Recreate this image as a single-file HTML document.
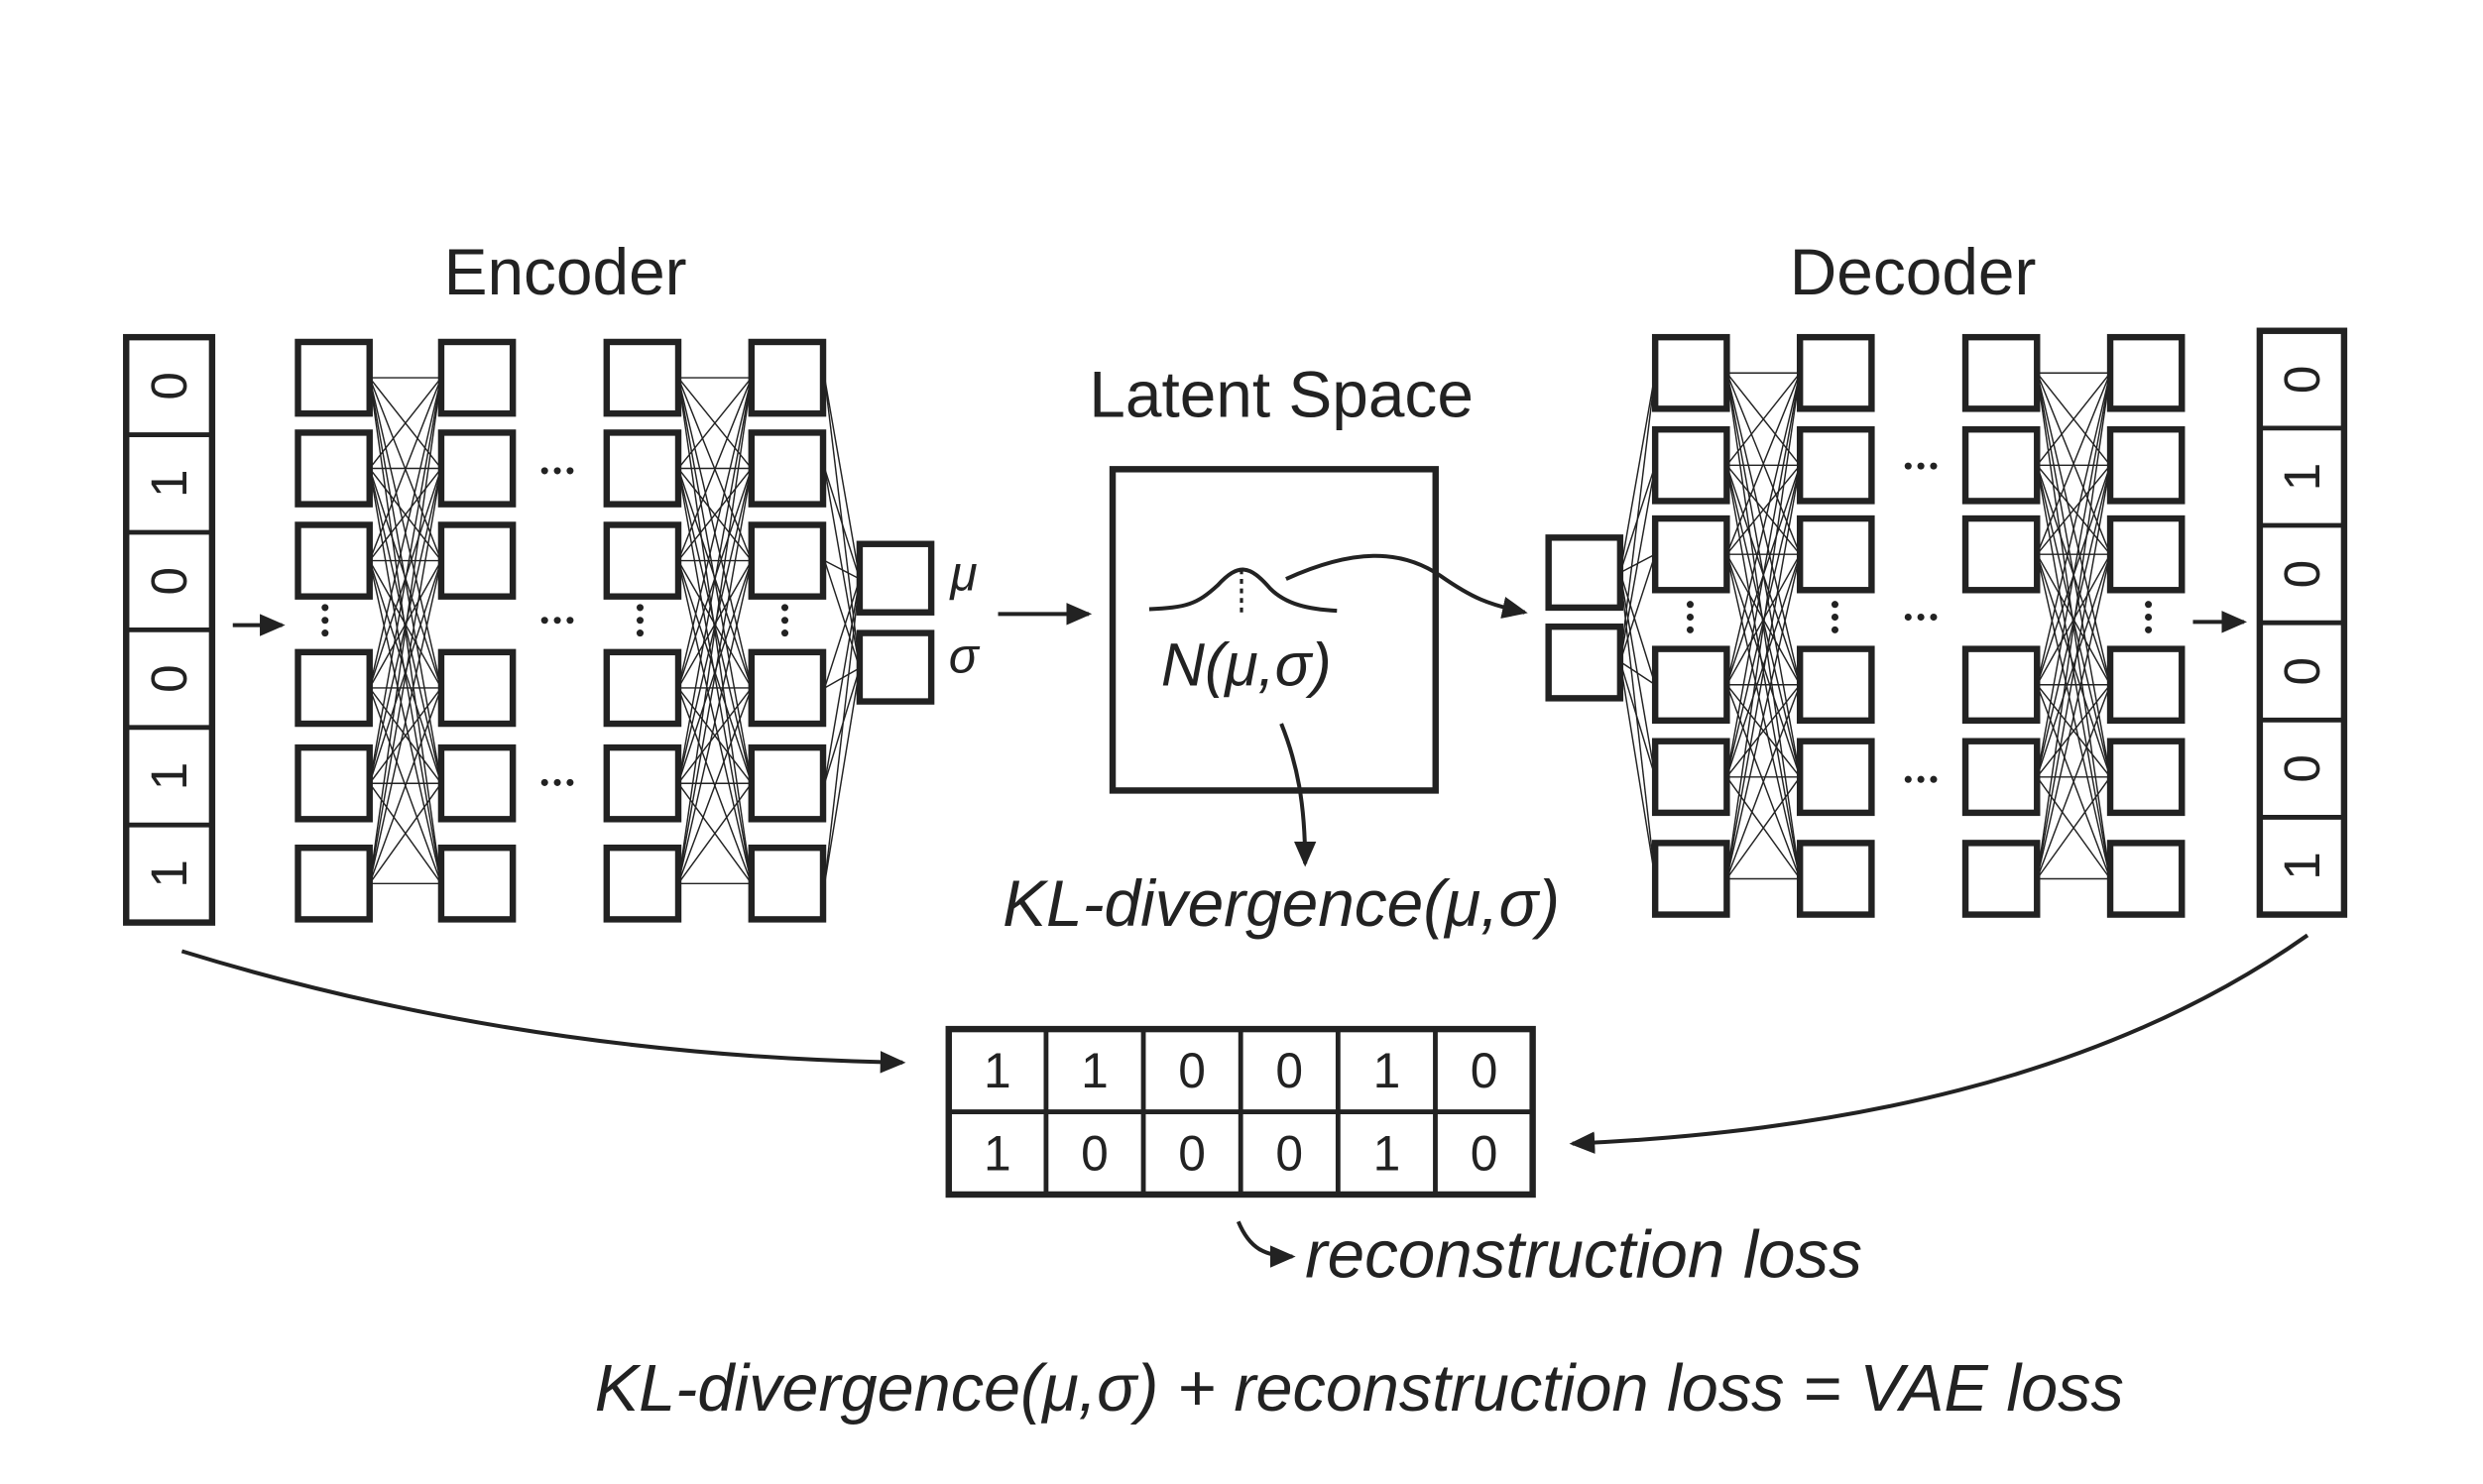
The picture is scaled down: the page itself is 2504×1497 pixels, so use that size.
<!DOCTYPE html>
<html><head><meta charset="utf-8"><style>
html,body{margin:0;padding:0;background:#fff;}
svg{display:block;}
text{font-family:"Liberation Sans",sans-serif;fill:#222;}
</style></head><body>
<svg id="s" width="2504" height="1497" viewBox="0 0 1560 933" xmlns="http://www.w3.org/2000/svg">
<defs><marker id="ah" markerWidth="16" markerHeight="14" refX="14" refY="7" orient="auto" markerUnits="userSpaceOnUse"><path d="M0,0 L16,7 L0,14 z" fill="#222"/></marker></defs>
<g id="g" stroke="#222" fill="none"></g>
<text x="355" y="185" font-size="41" text-anchor="middle">Encoder</text>
<text x="1202" y="185" font-size="41" text-anchor="middle">Decoder</text>
<text x="805" y="262" font-size="41" text-anchor="middle">Latent Space</text>
<text x="597" y="371" font-size="31" font-style="italic">μ</text>
<text x="596" y="423" font-size="31" font-style="italic">σ</text>
<rect x="699" y="295" width="203" height="202" stroke="#222" stroke-width="4" fill="none"/>
<path d="M722,383 C745,382 752,380 765,368 C778,354 785,355 798,370 C808,380 822,383 840,384" stroke="#222" stroke-width="2.5" fill="none"/>
<line x1="780" y1="358" x2="780" y2="386" stroke="#222" stroke-width="2" stroke-dasharray="3,3"/>
<text x="783" y="431" font-size="38" font-style="italic" text-anchor="middle">N(μ,σ)</text>
<path d="M808,364 C850,345 880,345 905,362 C925,376 935,380 958,385" stroke="#222" stroke-width="2.5" fill="none" marker-end="url(#ah)"/>
<path d="M805,455 C815,480 820,505 820,543" stroke="#222" stroke-width="2.5" fill="none" marker-end="url(#ah)"/>
<text x="805" y="582" font-size="41" font-style="italic" text-anchor="middle">KL-divergence(μ,σ)</text>
<path d="M146,393 L177,393" stroke="#222" stroke-width="2.5" marker-end="url(#ah)"/>
<path d="M627,386 L684,386" stroke="#222" stroke-width="2.5" marker-end="url(#ah)"/>
<path d="M1378,391 L1410,391" stroke="#222" stroke-width="2.5" marker-end="url(#ah)"/>
<path d="M114,598 C250,640 400,665 567,668" stroke="#222" stroke-width="2.5" fill="none" marker-end="url(#ah)"/>
<path d="M1450,588 C1320,680 1150,712 988,719" stroke="#222" stroke-width="2.5" fill="none" marker-end="url(#ah)"/>
<path d="M778,768 C785,785 795,790 812,790" stroke="#222" stroke-width="2.5" fill="none" marker-end="url(#ah)"/>
<text x="820" y="803" font-size="42" font-style="italic">reconstruction loss</text>
<text x="854" y="887" font-size="41.5" font-style="italic" text-anchor="middle">KL-divergence(μ,σ) + reconstruction loss = VAE loss</text>
<g id="t"></g>
</svg>
<script>
var NS="http://www.w3.org/2000/svg",g=document.getElementById('g'),t=document.getElementById('t');
function el(p,n,a){var e=document.createElementNS(NS,n);for(var k in a)e.setAttribute(k,a[k]);p.appendChild(e);return e;}
function txt(p,x,y,s,sz,rot){var e=el(p,'text',{x:x,y:y,'font-size':sz,'text-anchor':'middle','dominant-baseline':'central'});if(rot)e.setAttribute('transform','rotate(-90 '+x+' '+y+')');e.textContent=s;}
function box(x,y,w,h){el(g,'rect',{x:x,y:y,width:w,height:h,'stroke-width':4,fill:'#fff'});}
function net(cols,rows,sz){
  var ys=rows.map(r=>r+sz/2);
  for(var c=0;c<cols.length;c+=2){var x1=cols[c]+sz,x2=cols[c+1];
    ys.forEach(a=>ys.forEach(b=>el(g,'line',{x1:x1,y1:a,x2:x2,y2:b,'stroke-width':0.9})));}
  return ys;
}
var ec=[187,277,381,472],er=[215,272,330,410,470,533];
var eys=net(ec,er,45);
[342,398].forEach(function(b){eys.forEach(a=>el(g,'line',{x1:518,y1:a,x2:540,y2:b+22,'stroke-width':0.9}));});
ec.forEach(x=>er.forEach(y=>box(x,y,45,45)));
box(540,342,45,43);box(540,398,45,43);
var dc=[1040,1131,1235,1326],dr=[212,270,326,408,466,530];
var dys=net(dc,dr,45);
[338,394].forEach(function(b){dys.forEach(a=>el(g,'line',{x1:1018,y1:b+22,x2:1040,y2:a,'stroke-width':0.9}));});
dc.forEach(x=>dr.forEach(y=>box(x,y,45,45)));
box(973,338,45,44);box(973,394,45,45);
function dots3h(x,y){[-8,0,8].forEach(d=>el(t,'circle',{cx:x+d,cy:y,r:2.2,fill:'#222'}));}
function dots3v(x,y){[-8,0,8].forEach(d=>el(t,'circle',{cx:x,cy:y+d,r:2.2,fill:'#222'}));}
[296,390,492].forEach(y=>dots3h(350,y));
[293,388,490].forEach(y=>dots3h(1207,y));
[204,402,493].forEach(x=>dots3v(x,390));
[1062,1153,1350].forEach(x=>dots3v(x,388));
function vec(x,y,w,h,digs){el(t,'rect',{x:x,y:y,width:w,height:h,stroke:'#222','stroke-width':4,fill:'none'});var ch=h/6;
 for(var i=1;i<6;i++)el(t,'line',{x1:x,y1:y+i*ch,x2:x+w,y2:y+i*ch,stroke:'#222','stroke-width':3});
 digs.forEach((d,i)=>txt(t,x+w/2,y+ch*(i+.5),d,32,true));}
vec(79,212,54,368,['0','1','0','0','1','1']);
vec(1420,208,53,367,['0','1','0','0','0','1']);
var tx=596,ty=647,tw=367,th=104;
el(t,'rect',{x:tx,y:ty,width:tw,height:th,stroke:'#222','stroke-width':4,fill:'none'});
el(t,'line',{x1:tx,y1:ty+th/2,x2:tx+tw,y2:ty+th/2,stroke:'#222','stroke-width':3});
for(var i=1;i<6;i++)el(t,'line',{x1:tx+i*tw/6,y1:ty,x2:tx+i*tw/6,y2:ty+th,stroke:'#222','stroke-width':3});
var r1=['1','1','0','0','1','0'],r2=['1','0','0','0','1','0'];
for(var i=0;i<6;i++){txt(t,tx+(i+.5)*tw/6,ty+th/4,r1[i],31);txt(t,tx+(i+.5)*tw/6,ty+3*th/4,r2[i],31);}
</script>
</body></html>
